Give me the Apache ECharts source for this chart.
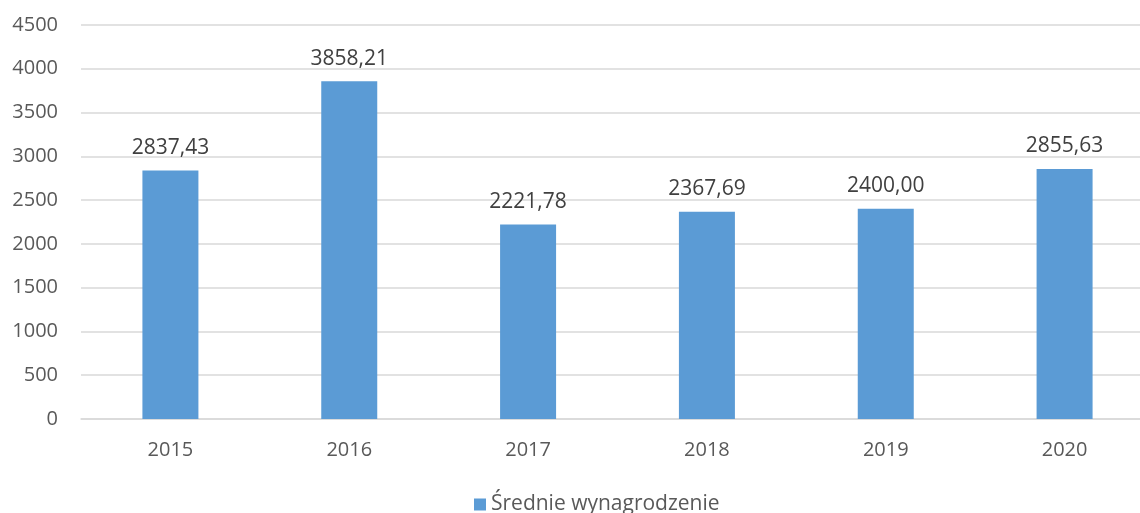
<!DOCTYPE html>
<html>
<head>
<meta charset="utf-8">
<script src="https://cdn.jsdelivr.net/npm/echarts@6/dist/echarts.min.js"></script>
<style>
  html, body { margin: 0; padding: 0; background: #fff; overflow: hidden; }
  #chart { width: 1160px; height: 513px; }
</style>
</head>
<body>
<div id="chart"></div>
<script>
// lata i średnie wynagrodzenie
var years = ['2015', '2016', '2017', '2018', '2019', '2020'];
var salary = [2837.43, 3858.21, 2221.78, 2367.69, 2400.00, 2855.63];
var seriesName = 'Średnie wynagrodzenie';

var myChart = echarts.init(document.getElementById('chart'));
var font = '"Open Sans", "Noto Sans", sans-serif';

myChart.setOption({
    animation: false,
    textStyle: { fontFamily: font },
    // wykres jest przycięty z prawej, więc siatka wychodzi poza okno
    grid: { left: 81, top: 25, width: 1073, height: 394 },
    legend: {
        data: [seriesName],
        bottom: -7,
        left: 469,
        icon: 'rect',
        itemWidth: 12,
        itemHeight: 12,
        itemGap: 6,
        textStyle: { fontSize: 21, color: '#595959', fontFamily: font }
    },
    xAxis: {
        type: 'category',
        data: years,
        axisLine: { lineStyle: { color: '#d9d9d9', width: 1.5 } },
        axisTick: { show: false },
        axisLabel: { fontSize: 20, color: '#595959', margin: 21, fontFamily: font }
    },
    yAxis: {
        type: 'value',
        min: 0,
        max: 4500,
        interval: 500,
        axisLine: { show: false },
        axisTick: { show: false },
        axisLabel: {
            fontSize: 20, color: '#595959', margin: 23, fontFamily: font,
            formatter: function (v) { return String(v); }
        },
        splitLine: { lineStyle: { color: '#d9d9d9', width: 1.5 } }
    },
    series: [{
        name: seriesName,
        type: 'bar',
        data: salary,
        barWidth: 56,
        itemStyle: { color: '#5b9bd5' },
        label: {
            show: true,
            position: 'top',
            distance: 12,
            fontSize: 21,
            color: '#404040',
            fontFamily: font,
            formatter: function (p) {
                return p.value.toFixed(2).replace('.', ',');
            }
        }
    }]
});
</script>
</body>
</html>
